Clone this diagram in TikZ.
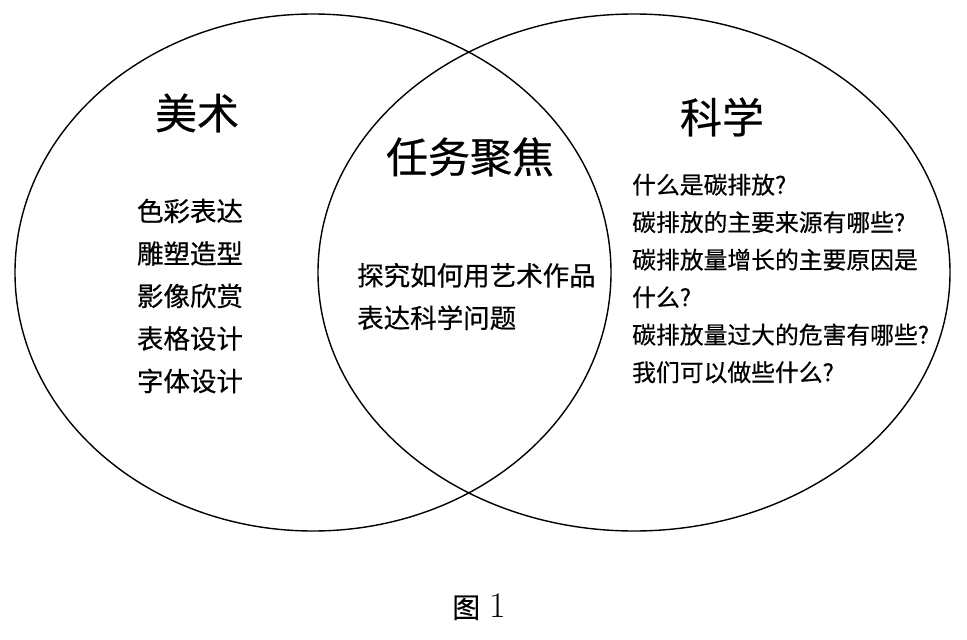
\documentclass[tikz,border=0pt]{standalone}
\usepackage{fontspec}
\newfontfamily\cjk[FakeBold=0.5]{Noto Sans CJK SC}
\usetikzlibrary{positioning}
\begin{document}
\begin{tikzpicture}[
  x=1pt, y=-1pt,
  every node/.style={inner sep=0pt, font=\cjk},
  title/.style={font=\cjk\fontsize{42pt}{50pt}\selectfont},
  topics/.style={align=left, font=\cjk\fontsize{26.5pt}{42.5pt}\selectfont},
  questions/.style={align=left, font=\cjk\fontsize{23.8pt}{37.5pt}\selectfont},
  set/.style={line width=1.4pt}
]
\fill[white] (0,0) rectangle (967,640);
\useasboundingbox (0,0) rectangle (967,640);

% the two sets
\draw[set] (313,272.5) ellipse [x radius=298pt, y radius=258.5pt];
\draw[set] (634,272.5) ellipse [x radius=316pt, y radius=258.5pt];

\node[title] (art) at (197,113) {美术};
\node[title] (sci) at (722,117) {科学};
\node[title] (task) at (470,157) {任务聚焦};

\node[topics] (artlist) at (190,296) {色彩表达\\雕塑造型\\影像欣赏\\表格设计\\字体设计};
\node[topics, anchor=west] (tasktext) at (357,296.5) {探究如何用艺术作品\\表达科学问题};
\node[questions, anchor=west] (scilist) at (632,278.5) {什么是碳排放?\\碳排放的主要来源有哪些?\\碳排放量增长的主要原因是\\什么?\\碳排放量过大的危害有哪些?\\我们可以做些什么?};

\node[font=\fontsize{36pt}{40pt}\selectfont] (caption) at (479,607) {{\cjk\fontsize{28pt}{32pt}\selectfont 图}\hspace{9pt}1};
\end{tikzpicture}
\end{document}
